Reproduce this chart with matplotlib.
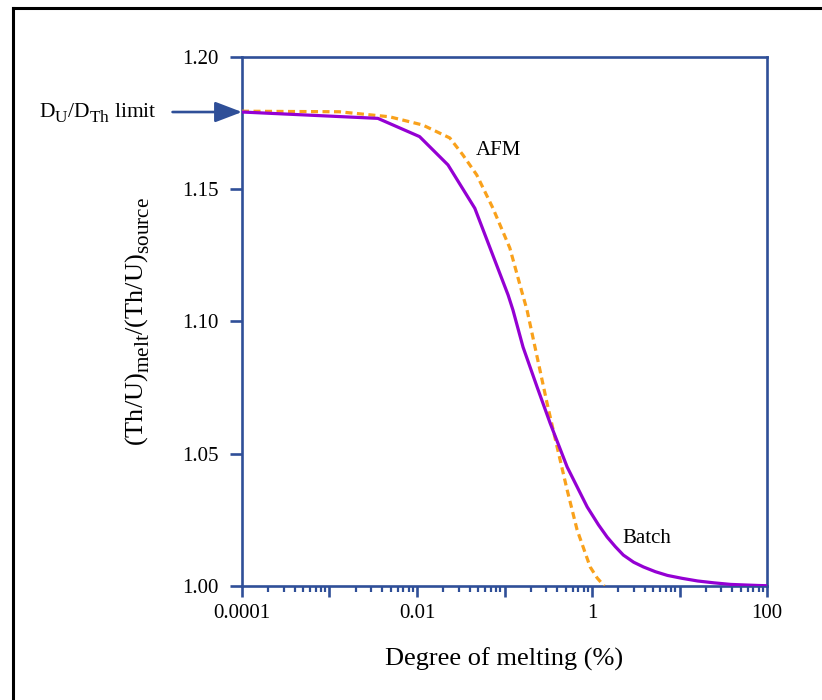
import matplotlib
matplotlib.use("Agg")
import matplotlib.pyplot as plt
from matplotlib.lines import Line2D
from matplotlib.ticker import LogLocator, FixedLocator, NullFormatter, FixedFormatter

try:
    import matplotlib._mathtext as _mt
    _mt.SHRINK_FACTOR = 0.8
    _mt.FontConstantsBase.sub1 = 0.5
    _mt.FontConstantsBase.sub2 = 0.55
except Exception:
    pass

plt.rcParams['font.family'] = ['Liberation Serif', 'DejaVu Serif']
plt.rcParams['mathtext.fontset'] = 'custom'
plt.rcParams['mathtext.rm'] = 'Liberation Serif'
plt.rcParams['mathtext.it'] = 'Liberation Serif:italic'
plt.rcParams['mathtext.bf'] = 'Liberation Serif:bold'

# ---- data ----
batch_F = [0.0001, 0.00357, 0.0107, 0.0226, 0.0458, 0.110, 0.125, 0.163, 0.236,
           0.332, 0.520, 0.881, 1.187, 1.49, 1.845, 2.28, 2.99, 3.87, 5.31, 7.28,
           10.7, 16.1, 24.7, 38.5, 78.4, 100.0]
batch_ratio = [1.1792, 1.1768, 1.1699, 1.1592, 1.1428, 1.1100, 1.1043, 1.0903, 1.0752,
               1.0616, 1.0450, 1.0299, 1.0231, 1.0185, 1.0149, 1.0117, 1.0090, 1.0072,
               1.0054, 1.0040, 1.0029, 1.0019, 1.0012, 1.0006, 1.0002, 1.0001]

afm_F = [0.0001, 0.00129, 0.00485, 0.0116, 0.0237, 0.0334, 0.0482, 0.0736, 0.115,
         0.158, 0.181, 0.236, 0.306, 0.399, 0.520, 0.676, 0.953, 1.148, 1.38]
afm_ratio = [1.1795, 1.1793, 1.1774, 1.1743, 1.1694, 1.1630, 1.1554, 1.1429, 1.1278,
             1.1112, 1.1043, 1.0866, 1.0692, 1.0526, 1.0363, 1.0212, 1.0072, 1.0030,
             1.0000]

limit_value = 1.1792

y_ticks = [1.00, 1.05, 1.10, 1.15, 1.20]
y_tick_labels = ["1.00", "1.05", "1.10", "1.15", "1.20"]
x_major = [0.0001, 0.001, 0.01, 0.1, 1, 10, 100]
x_tick_labels = ["0.0001", "", "0.01", "", "1", "", "100"]

BLUE = '#2f4f98'
PURPLE = '#9400d3'
ORANGE = '#f9a11b'

fig = plt.figure(figsize=(8.22, 7.0), dpi=100)
ax = fig.add_axes([242/822, 1-586/700, (767-242)/822, (586-57)/700])

ax.plot(afm_F, afm_ratio, color=ORANGE, lw=2.3, linestyle=(0, (2.2, 1.4)), zorder=3)
ax.plot(batch_F, batch_ratio, color=PURPLE, lw=2.3, zorder=4)

ax.set_xscale('log')
ax.set_xlim(0.0001, 100)
ax.set_ylim(1.0, 1.2)

ax.xaxis.set_major_locator(FixedLocator(x_major))
ax.xaxis.set_major_formatter(FixedFormatter(x_tick_labels))
ax.xaxis.set_minor_locator(LogLocator(base=10, subs=[2, 3, 4, 5, 6, 7, 8, 9], numticks=20))
ax.xaxis.set_minor_formatter(NullFormatter())
ax.set_yticks(y_ticks)
ax.set_yticklabels(y_tick_labels)

for s in ax.spines.values():
    s.set_color(BLUE)
    s.set_linewidth(1.9)

ax.tick_params(axis='x', which='major', direction='out', length=8, width=1.9,
               color=BLUE, labelsize=15, pad=5)
ax.tick_params(axis='x', which='minor', direction='out', length=4.5, width=1.6,
               color=BLUE)
ax.tick_params(axis='y', which='major', direction='out', length=9, width=1.9,
               color=BLUE, labelsize=15, pad=8)

ax.set_xlabel('Degree of melting (%)', fontsize=19, labelpad=18)
ax.set_ylabel(r'(Th/U)$_{\rm melt}$/(Th/U)$_{\rm source}$', fontsize=19, labelpad=22)

ax.text(0.047, 1.1629, 'AFM', fontsize=15, ha='left', va='baseline')
ax.text(2.22, 1.0163, 'Batch', fontsize=15, ha='left', va='baseline')

# D_U/D_Th limit arrow
ax.annotate('', xy=(0.0001, limit_value), xycoords='data',
            xytext=(-50, 0), textcoords='offset points',
            arrowprops=dict(arrowstyle='-|>,head_length=1.1,head_width=0.42',
                            mutation_scale=15, color=BLUE, lw=1.9,
                            shrinkA=0, shrinkB=0),
            annotation_clip=False)
fig.text(39/822, 1-116.5/700, r'D$_{\rm U}$/D$_{\rm Th}$ limit', fontsize=15.5,
         ha='left', va='baseline')

# figure border (partially cropped in the reference)
fig.add_artist(Line2D([12.5/822, 12.5/822], [0, 1-7.5/700], transform=fig.transFigure,
                      color='black', lw=2.2))
fig.add_artist(Line2D([12.5/822, 1.0], [1-7.5/700, 1-7.5/700], transform=fig.transFigure,
                      color='black', lw=2.2))

fig.savefig('out.png', dpi=100)
